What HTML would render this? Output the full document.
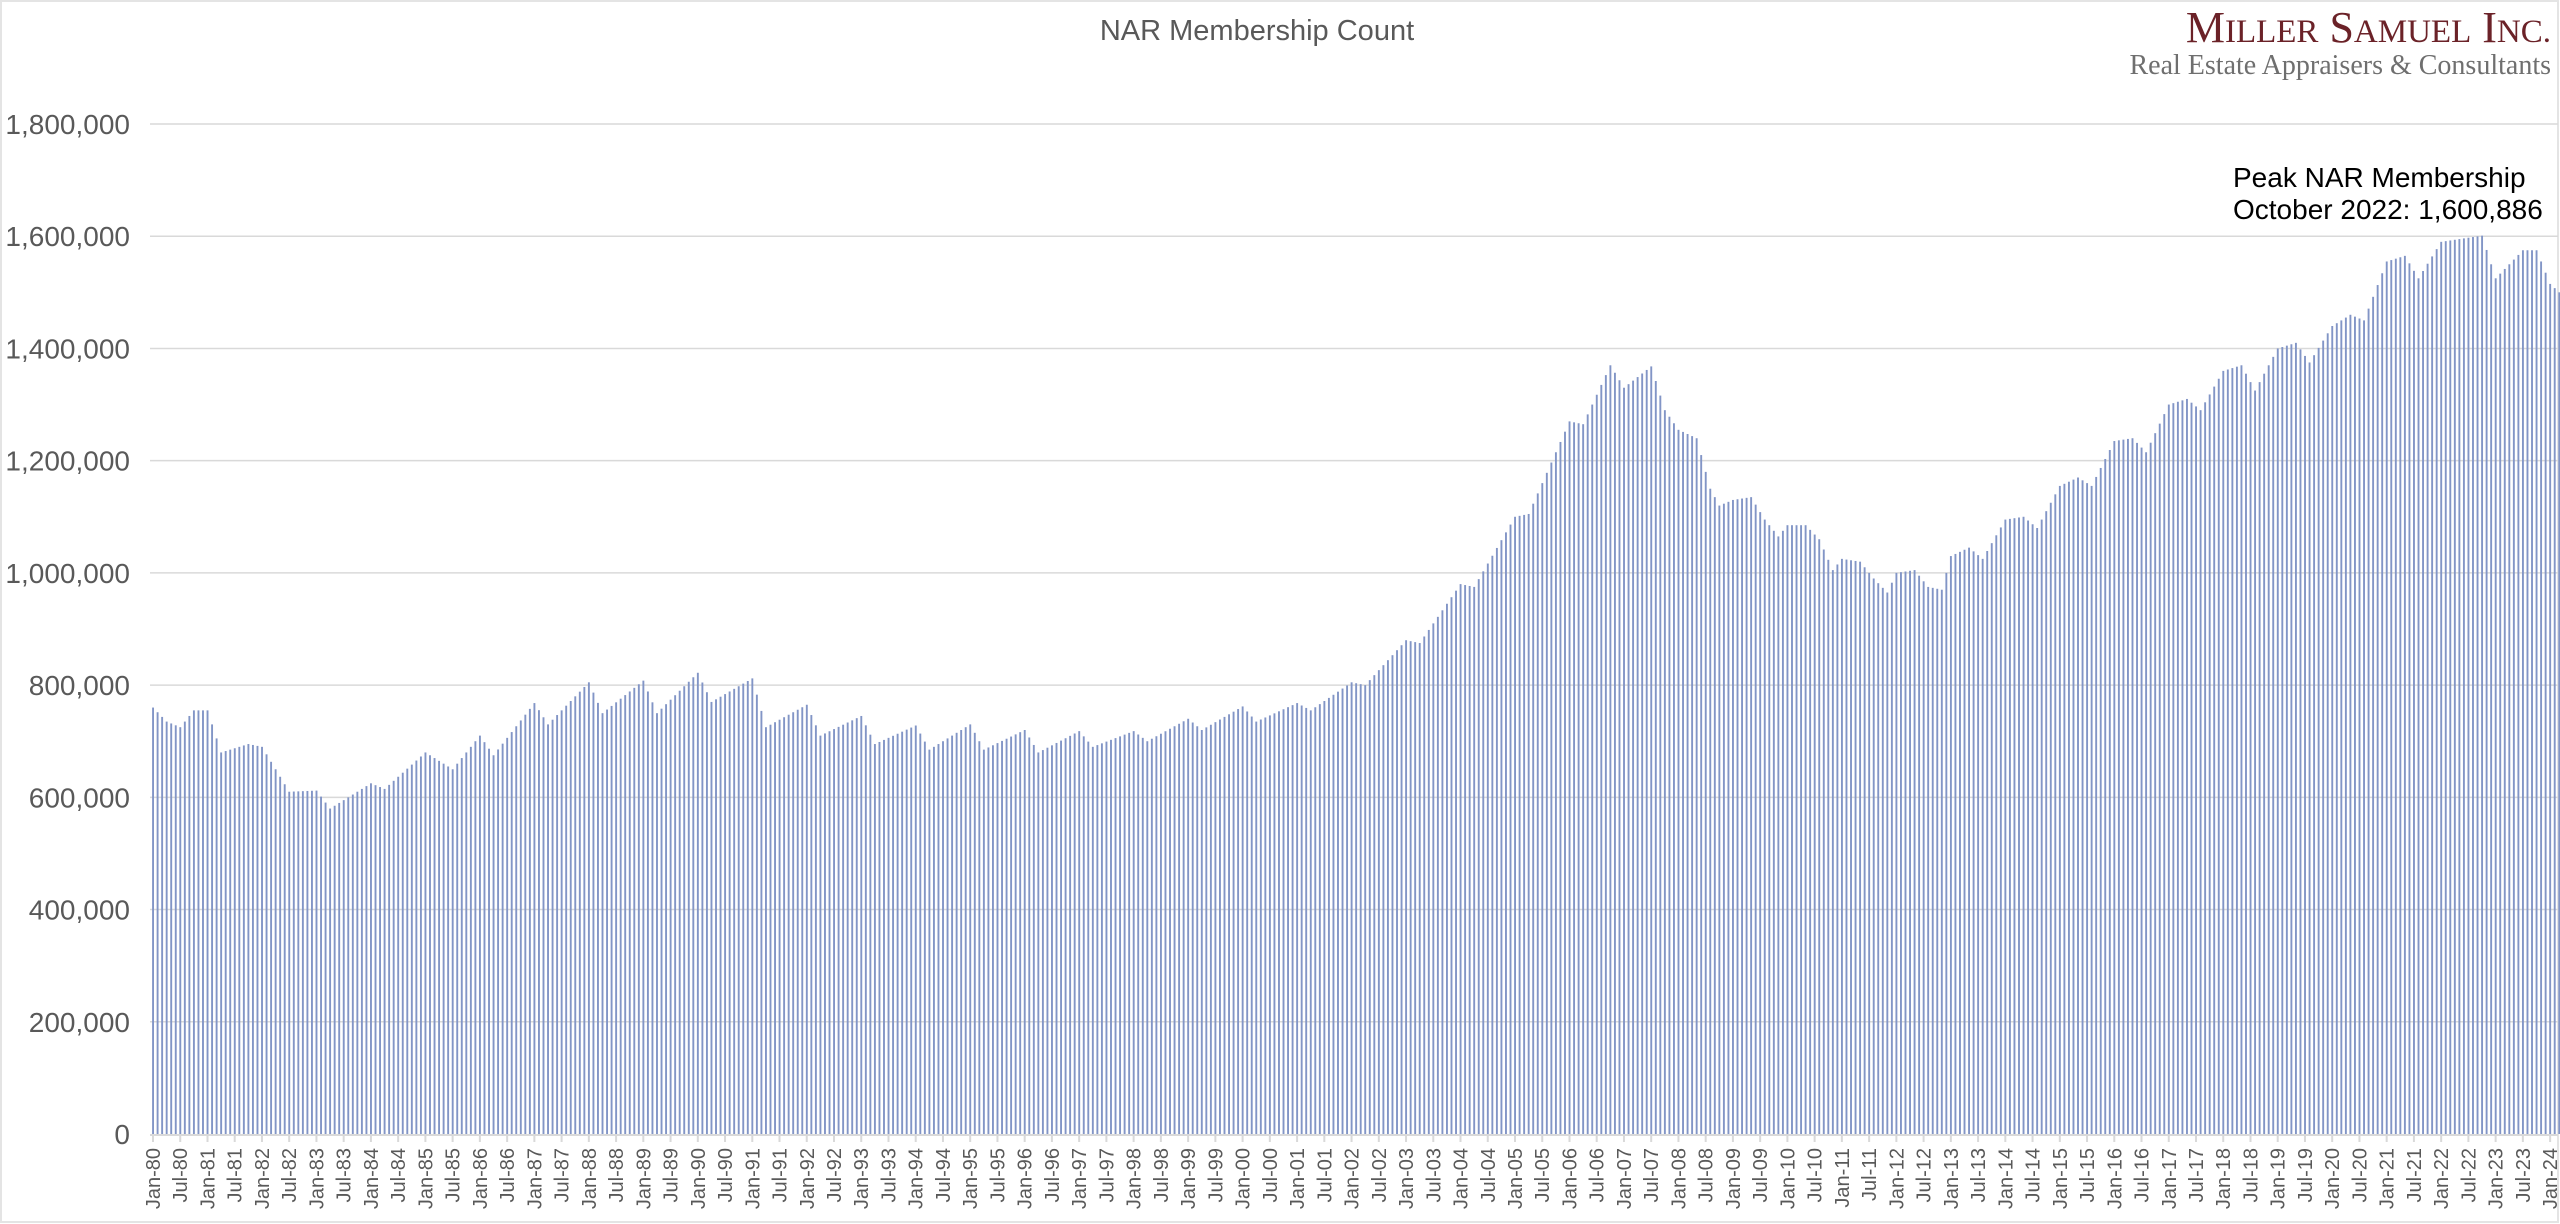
<!DOCTYPE html>
<html><head><meta charset="utf-8"><style>
html,body{margin:0;padding:0;background:#fff;}
svg{display:block;font-family:"Liberation Sans",Arial,sans-serif;}
</style></head><body>
<svg id="c" width="2560" height="1224" xmlns="http://www.w3.org/2000/svg">
<rect x="0" y="0" width="2560" height="1224" fill="#fff"/>
<rect x="1" y="1" width="2557" height="1221" fill="none" stroke="#e4e4e4" stroke-width="2"/>
<text x="1257" y="40" text-anchor="middle" font-size="29" fill="#595959">NAR Membership Count</text>
<text x="2551" y="42" text-anchor="end" font-family="'Liberation Serif',serif" font-size="44" fill="#6b2228">M<tspan font-size="33">ILLER</tspan> S<tspan font-size="33">AMUEL</tspan> I<tspan font-size="33">NC.</tspan></text>
<text x="2551" y="74" text-anchor="end" font-family="'Liberation Serif',serif" font-size="28" fill="#6f6f6f">Real Estate Appraisers &amp; Consultants</text>
<text x="2233" y="187" font-size="28" fill="#000">Peak NAR Membership</text>
<text x="2233" y="219" font-size="28" fill="#000">October 2022: 1,600,886</text>
<g id="g"></g><g id="b"></g><g id="l"></g>
</svg>
<script>
var NS="http://www.w3.org/2000/svg";
function el(p,t,a,txt){var e=document.createElementNS(NS,t);for(var k in a)e.setAttribute(k,a[k]);if(txt!=null)e.textContent=txt;p.appendChild(e);return e;}
var y0=1134,ppv=(1134-124)/1800000;
var g=document.getElementById('g'),b=document.getElementById('b'),l=document.getElementById('l');
for(var v=0;v<=1800000;v+=200000){var y=y0-v*ppv;
 if(v>0)el(g,'line',{x1:150,x2:2558,y1:y,y2:y,stroke:'#d9d9d9','stroke-width':1.5});
 el(l,'text',{x:130,y:y+10,'text-anchor':'end','font-size':28,fill:'#595959'},v.toLocaleString('en-US'));}
el(g,'line',{x1:150,x2:2558,y1:y0+1,y2:y0+1,stroke:'#d9d9d9','stroke-width':2});
var K=[[1980,0,760],[1980,3,735],[1980,6,725],[1980,9,755],[1981,0,755],[1981,3,680],[1981,9,695],[1982,0,690],[1982,6,610],[1983,0,612],[1983,3,580],[1984,0,625],[1984,3,615],[1985,0,680],[1985,6,650],[1986,0,710],[1986,3,675],[1987,0,768],[1987,3,730],[1988,0,805],[1988,3,750],[1989,0,808],[1989,3,750],[1990,0,822],[1990,3,770],[1991,0,812],[1991,3,725],[1992,0,765],[1992,3,710],[1993,0,745],[1993,3,695],[1994,0,728],[1994,3,685],[1995,0,730],[1995,3,685],[1996,0,720],[1996,3,680],[1997,0,718],[1997,3,690],[1998,0,718],[1998,3,700],[1999,0,740],[1999,3,720],[2000,0,762],[2000,3,735],[2001,0,768],[2001,3,755],[2002,0,805],[2002,3,800],[2003,0,880],[2003,3,875],[2004,0,980],[2004,3,975],[2005,0,1100],[2005,3,1105],[2006,0,1270],[2006,3,1265],[2006,9,1370],[2007,0,1330],[2007,6,1368],[2007,9,1290],[2008,0,1255],[2008,4,1240],[2008,7,1150],[2008,9,1120],[2009,0,1130],[2009,4,1135],[2009,7,1095],[2009,10,1065],[2010,0,1085],[2010,4,1085],[2010,7,1060],[2010,10,1005],[2011,0,1025],[2011,4,1020],[2011,7,990],[2011,10,965],[2012,0,1000],[2012,4,1005],[2012,7,975],[2012,10,970],[2013,0,1030],[2013,4,1045],[2013,7,1025],[2014,0,1095],[2014,4,1100],[2014,7,1080],[2015,0,1155],[2015,4,1170],[2015,7,1155],[2016,0,1235],[2016,4,1240],[2016,7,1215],[2017,0,1300],[2017,4,1310],[2017,7,1290],[2018,0,1360],[2018,4,1370],[2018,7,1325],[2019,0,1400],[2019,4,1410],[2019,7,1375],[2020,0,1440],[2020,4,1460],[2020,7,1450],[2021,0,1555],[2021,4,1565],[2021,7,1525],[2022,0,1590],[2022,9,1601],[2022,11,1550],[2023,0,1525],[2023,6,1575],[2023,9,1575],[2024,0,1515],[2024,2,1500]];
var pts=K.map(function(k){return [(k[0]-1980)*12+k[1],k[2]*1000];});
var x0=153,dx=4.54;
for(var m=0;m<=530;m++){var v=pts[pts.length-1][1];
 for(var i=0;i<pts.length-1;i++){if(m>=pts[i][0]&&m<=pts[i+1][0]){var t=(m-pts[i][0])/(pts[i+1][0]-pts[i][0]||1);v=pts[i][1]+t*(pts[i+1][1]-pts[i][1]);break;}}
 var h=v*ppv,x=x0+m*dx;
 el(b,'rect',{x:x-0.9,y:y0-h,width:1.9,height:h,fill:'#8295c6'});
 if(m%6==0){var yr=(80+Math.floor(m/12))%100;var lab=(m%12==0?'Jan-':'Jul-')+(yr<10?'0':'')+yr;
  el(l,'line',{x1:x,x2:x,y1:y0,y2:y0+8,stroke:'#d9d9d9','stroke-width':2});
  el(l,'text',{x:0,y:0,transform:'translate('+(x+7)+','+(y0+14)+') rotate(-90)','text-anchor':'end','font-size':20,fill:'#595959'},lab);}
}
</script>
</body></html>
